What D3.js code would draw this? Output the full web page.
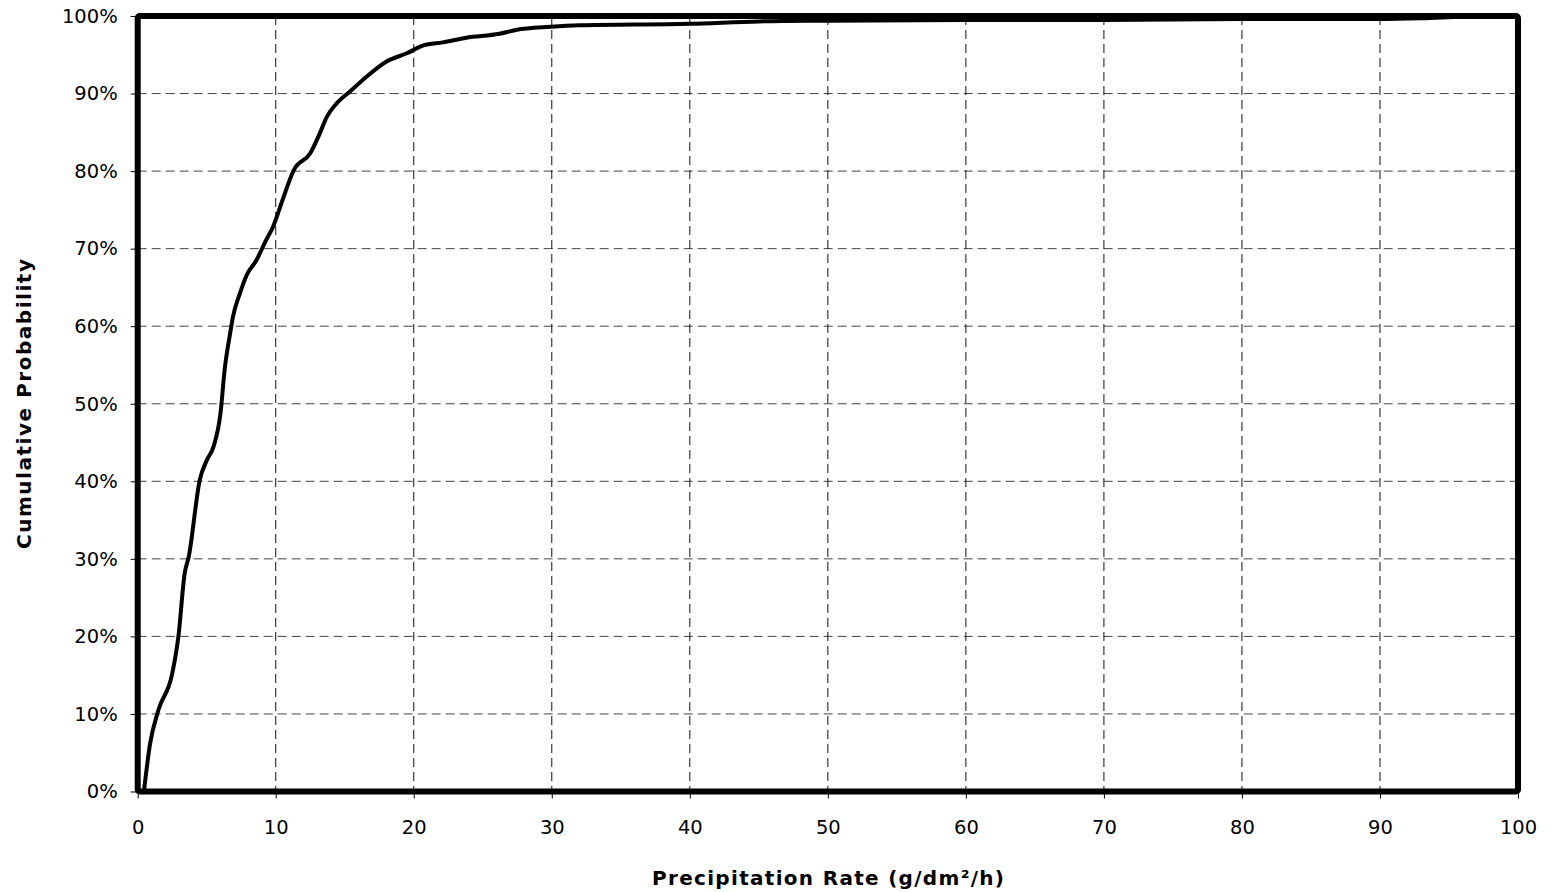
<!DOCTYPE html>
<html><head><meta charset="utf-8">
<script src="https://cdn.jsdelivr.net/npm/d3@7"></script>
<style>body{margin:0;background:#fff}svg{display:block}</style>
</head><body>
<svg id="c" width="1553" height="892"></svg>
<script>
const rateValues = [0.45,0.9,1.5,2.5,2.95,3.4,3.7,4.5,5.0,5.5,6.0,6.3,6.7,6.9,7.4,7.9,8.6,9.3,9.8,10.5,11.3,12.5,13.2,13.7,14.4,15.4,16.6,18.0,19.5,20.7,22.1,23.8,26.2,27.4,29.9,32,40,45,50,60,70,80,90,93,96,100];
const cumProb = [0,6.2,10.5,15.2,20,28.1,30.3,40.2,42.7,44.5,48.8,54.4,59.1,61.2,64.2,66.6,68.5,71.1,72.8,76.3,80.1,82.3,84.9,87,88.7,90.3,92.2,94.1,95.2,96.2,96.6,97.2,97.7,98.2,98.6,98.8,99.0,99.3,99.4,99.5,99.5,99.6,99.6,99.7,99.9,100];
const xTicks = [0,10,20,30,40,50,60,70,80,90,100];
const yTicks = [0,10,20,30,40,50,60,70,80,90,100];
const xLabel = "Precipitation Rate (g/dm²/h)";
const yLabel = "Cumulative Probability";

const L = 137.7, R = 1518, T = 16, B = 791.5;
const svg = d3.select("#c");
const x = d3.scaleLinear().domain([0,100]).range([L,R]);
const y = d3.scaleLinear().domain([0,100]).range([B,T]);
const tickFont = "'DejaVu Sans', Verdana, sans-serif";
const titleFont = "'DejaVu Sans', Arial, sans-serif";

// grid
svg.append("g").selectAll("line").data(yTicks.slice(1,-1)).join("line")
  .attr("x1",L).attr("x2",R).attr("y1",d=>y(d)).attr("y2",d=>y(d))
  .attr("stroke","#444").attr("stroke-width",1).attr("stroke-dasharray","9,5");
svg.append("g").selectAll("line").data(xTicks.slice(1,-1)).join("line")
  .attr("y1",T).attr("y2",B).attr("x1",d=>x(d)).attr("x2",d=>x(d))
  .attr("stroke","#111").attr("stroke-width",1).attr("stroke-dasharray","9,5");

// axes
const xAxis = svg.append("g").attr("transform",`translate(0,${B})`)
  .call(d3.axisBottom(x).tickValues(xTicks).tickSize(7).tickPadding(22).tickFormat(d3.format("d")));
const yAxis = svg.append("g").attr("transform",`translate(${L},0)`)
  .call(d3.axisLeft(y).tickValues(yTicks).tickSize(7).tickPadding(13).tickFormat(d=>d+"%"));
[xAxis,yAxis].forEach(a=>{
  a.select(".domain").remove();
  a.selectAll("line").attr("stroke","#000");
  a.selectAll("text").attr("font-family",tickFont).attr("font-size",19.5).attr("fill","#000");
});

// curve
const line = d3.line().x((d,i)=>x(rateValues[i])).y(d=>y(d)).curve(d3.curveMonotoneX);
svg.append("path").datum(cumProb).attr("d",line)
  .attr("fill","none").attr("stroke","#000").attr("stroke-width",4).attr("stroke-linejoin","round");

// frame
svg.append("rect").attr("x",L).attr("y",T).attr("width",R-L).attr("height",B-T)
  .attr("fill","none").attr("stroke","#000").attr("stroke-width",6).attr("rx",2);

// labels
svg.append("text").attr("x",828).attr("y",885).attr("text-anchor","middle")
  .attr("font-family",titleFont).attr("font-weight","bold").attr("font-size",20)
  .attr("textLength",352).attr("lengthAdjust","spacing").text(xLabel);
svg.append("text").attr("transform","translate(31,404) rotate(-90)").attr("text-anchor","middle")
  .attr("font-family",titleFont).attr("font-weight","bold").attr("font-size",20)
  .attr("textLength",290).attr("lengthAdjust","spacing").text(yLabel);
</script>
</body></html>
